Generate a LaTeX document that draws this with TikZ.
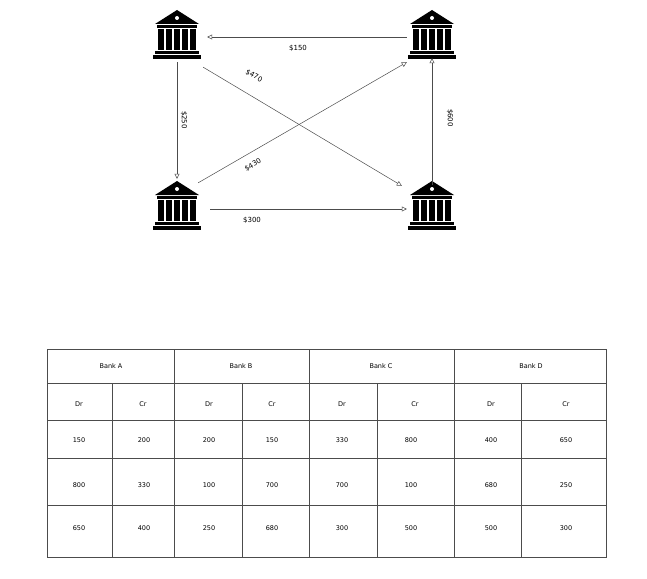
\documentclass[tikz,border=0pt]{standalone}
\usepackage{fontspec}
\setmainfont{DejaVu Sans}
\usetikzlibrary{arrows.meta}
\begin{document}
\begin{tikzpicture}[x=1pt,y=-1pt,
  bank/.style={minimum width=48pt,minimum height=50pt,inner sep=0pt},
  flow/.style={draw=black!70,line width=0.5pt,-{Triangle[open,length=5pt,width=5pt]}},
  lbl/.style={font=\fontsize{7}{8}\selectfont},
  grid/.style={draw=black!70,line width=0.7pt},
  cell/.style={font=\fontsize{6.5}{7}\selectfont}]
\useasboundingbox (0,0) rectangle (647,578);
\newcommand{\bankicon}[2]{%
  \begin{scope}[shift={(#1,#2)}]
  \fill (-22,-12) -- (0,-26) -- (22,-12) -- cycle;
  \fill[white] (0,-18) circle (2);
  \fill (-20,-11) rectangle (20,-8);
  \foreach \i in {-16,-8,0,8,16} \fill (\i-3,-7) rectangle (\i+3,14);
  \fill (-22,15) rectangle (22,18);
  \fill (-24,19) rectangle (24,23);
  \end{scope}}
\bankicon{177}{36}\bankicon{432}{36}\bankicon{177}{207}\bankicon{432}{207}
\node[bank] (A) at (177,36) {};
\node[bank] (B) at (432,36) {};
\node[bank] (C) at (177,207) {};
\node[bank] (D) at (432,207) {};
\draw[flow] ([xshift=-1pt,yshift=-1pt]B.west) -- ([xshift=6pt,yshift=-1pt]A.east);
\node[lbl] (l150) at (298,48) {\$150};
\draw[flow] ([yshift=-1pt]A.south) -- ([yshift=3pt]C.north);
\node[lbl,rotate=-90] (l250) at (184,120) {\$250};
\draw[flow] ([yshift=-3pt]D.north) -- ([yshift=3pt]B.south);
\node[lbl,rotate=-90] (l600) at (450,118) {\$600};
\draw[flow] ([xshift=2pt,yshift=-6pt]A.south east) -- ([xshift=-6pt,yshift=-4pt]D.north west);
\node[lbl,rotate=-30] (l470) at (254,76) {\$470};
\draw[flow] ([xshift=-3pt,yshift=-1pt]C.north east) -- ([xshift=-1pt,yshift=-1pt]B.south west);
\node[lbl,rotate=30] (l430) at (253,165) {\$430};
\draw[flow] ([xshift=9pt,yshift=-2pt]C.east) -- ([xshift=-1pt,yshift=-2pt]D.west);
\node[lbl] (l300) at (252,220) {\$300};
% table
\draw[grid] (47,349) rectangle (606,557);
\foreach \y in {383,420,458,505} \draw[grid] (47,\y) -- (606,\y);
\foreach \x in {174,309,454} \draw[grid] (\x,349) -- (\x,557);
\foreach \x in {112,242,377,521} \draw[grid] (\x,383) -- (\x,557);
\node[cell] (hA) at (111,366) {Bank A};
\node[cell] (hB) at (241,366) {Bank B};
\node[cell] (hC) at (381,366) {Bank C};
\node[cell] (hD) at (531,366) {Bank D};
\foreach \x/\t in {79/Dr,143/Cr,209/Dr,272/Cr,342/Dr,415/Cr,491/Dr,566/Cr}
  \node[cell] at (\x,404) {\t};
\foreach \x/\a/\b/\c in {79/150/800/650,144/200/330/400,209/200/100/250,272/150/700/680,342/330/700/300,411/800/100/500,491/400/680/500,566/650/250/300}{
  \node[cell] at (\x,440) {\a};
  \node[cell] at (\x,485) {\b};
  \node[cell] at (\x,528) {\c};}
\end{tikzpicture}
\end{document}
